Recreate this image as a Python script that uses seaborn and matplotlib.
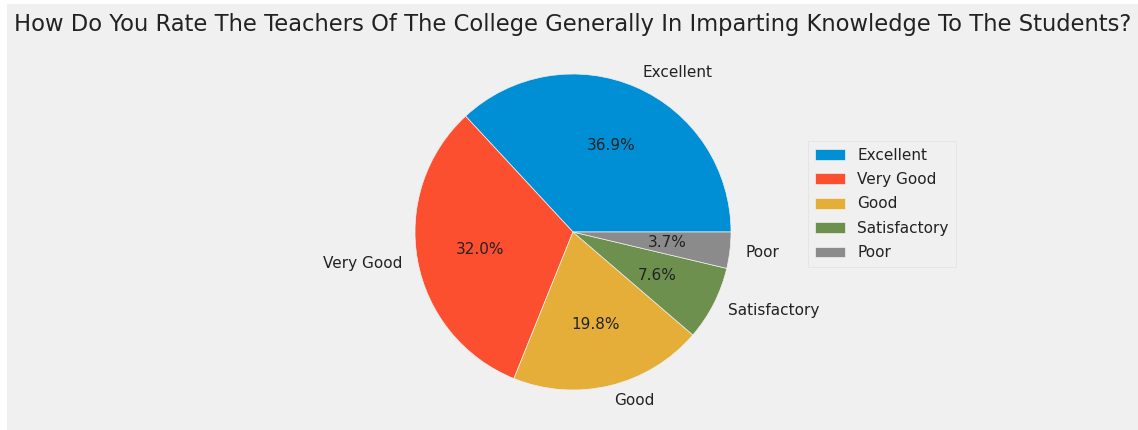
import matplotlib
matplotlib.use("Agg")
import matplotlib.pyplot as plt
from matplotlib.patches import Rectangle
import seaborn as sns

# survey answers and their share (percent)
ratings = ["Excellent", "Very Good", "Good", "Satisfactory", "Poor"]
shares = [36.9, 32.0, 19.8, 7.6, 3.7]
title_text = "How Do You Rate The Teachers Of The College Generally In Imparting Knowledge To The Students?"

plt.style.use("fivethirtyeight")
colors = sns.color_palette(["#008fd5", "#fc4f30", "#e5ae38", "#6d904f", "#8b8b8b"])

W, H = 1138, 430
fig = plt.figure(figsize=(W / 100, H / 100), dpi=100, facecolor="white")
# grey canvas with a thin white border on the left / top like the screenshot
fig.patches.append(Rectangle((7 / W, 0), 1, (H - 4) / H, transform=fig.transFigure,
                             facecolor="#f0f0f0", edgecolor="none", zorder=-10))

# pie centre at (573, 232) px from top-left, radius ~158 px
cx, cy, r = 573, H - 232, 158
half = 1.25 * r
ax = fig.add_axes([(cx - half) / W, (cy - half) / H, 2 * half / W, 2 * half / H])
ax.set_facecolor("#f0f0f0")

wedges, texts, autotexts = ax.pie(shares, labels=ratings, colors=colors, autopct="%1.1f%%",
                                  wedgeprops=dict(edgecolor="#f0f0f0", linewidth=0.5),
                                  textprops=dict(fontsize=11, color="#222222"))
ax.set_xlim(-1.25, 1.25)
ax.set_ylim(-1.25, 1.25)
ax.set_aspect("equal")
ax.axis("off")

fig.text(cx / W, 1 - 24 / H, title_text, ha="center", va="center", fontsize=16.3, color="#222222")

leg = fig.legend(wedges, ratings, loc="center left", bbox_to_anchor=(800 / W, 1 - 204 / H),
                 fontsize=11, frameon=True, facecolor="#f0f0f0", edgecolor="#dddddd",
                 fancybox=False, borderpad=0.45, labelspacing=0.62, handlelength=2.0)
for t in leg.get_texts():
    t.set_color("#222222")

fig.savefig("out.png", dpi=100, facecolor=fig.get_facecolor())
